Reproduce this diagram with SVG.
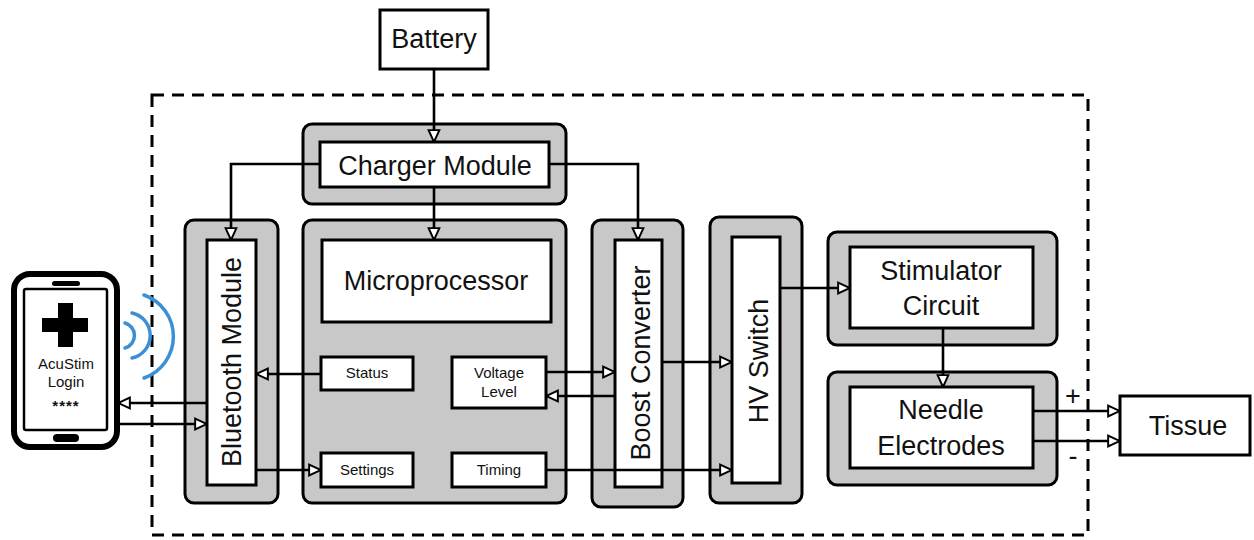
<svg xmlns="http://www.w3.org/2000/svg" width="1254" height="540" viewBox="0 0 1254 540">
<defs>
<marker id="arr" markerUnits="userSpaceOnUse" markerWidth="14" markerHeight="14" viewBox="-1 -1 13 12" refX="11" refY="5" orient="auto">
<path d="M0,0 L11,5 L0,10 Z" fill="#fff" stroke="#000" stroke-width="1.8" stroke-linejoin="miter"/>
</marker>
</defs>
<style>
.outer{fill:#c8c8c8;stroke:#000;stroke-width:3}
.inner{fill:#fff;stroke:#000;stroke-width:3}
.t{font-family:"Liberation Sans",Arial,sans-serif;font-size:27px;fill:#111;text-anchor:middle}
.s{font-family:"Liberation Sans",Arial,sans-serif;font-size:15px;fill:#111;text-anchor:middle}
.ln{fill:none;stroke:#000;stroke-width:2.6}
.wifi{fill:none;stroke:#3a8fd6;stroke-width:3.5;stroke-linecap:round}
</style>
<rect width="1254" height="540" fill="#fff"/>
<rect x="152" y="95" width="936" height="440" fill="none" stroke="#000" stroke-width="3" stroke-dasharray="12 8"/>

<g id="battery"><rect class="inner" x="380" y="10" width="108" height="59"/><text class="t" x="434" y="48">Battery</text></g>
<g id="charger"><rect class="outer" x="303" y="124" width="263" height="80" rx="9"/><rect class="inner" x="320" y="142" width="229" height="45"/><text class="t" x="435" y="175">Charger Module</text></g>
<g id="bluetooth"><rect class="outer" x="185" y="220" width="93" height="283" rx="9"/><rect class="inner" x="207" y="240" width="49" height="245"/><text class="t" transform="translate(241,362) rotate(-90)">Bluetooth Module</text></g>
<g id="microprocessor"><rect class="outer" x="303" y="220" width="263" height="283" rx="9"/><rect class="inner" x="322" y="240" width="229" height="82"/><text class="t" x="436" y="290">Microprocessor</text></g>
<g id="status"><rect class="inner" x="321" y="357" width="92" height="33"/><text class="s" x="367" y="378">Status</text></g>
<g id="voltage"><rect class="inner" x="452" y="357" width="94" height="51"/><text class="s" x="499" y="378">Voltage</text><text class="s" x="499" y="397">Level</text></g>
<g id="settings"><rect class="inner" x="321" y="453" width="92" height="34"/><text class="s" x="367" y="475">Settings</text></g>
<g id="timing"><rect class="inner" x="452" y="453" width="94" height="34"/><text class="s" x="499" y="475">Timing</text></g>
<g id="boost"><rect class="outer" x="592" y="220" width="91" height="287" rx="9"/><rect class="inner" x="615" y="240" width="47" height="247"/><text class="t" transform="translate(650,363) rotate(-90)">Boost Converter</text></g>
<g id="hvswitch"><rect class="outer" x="710" y="217" width="92" height="286" rx="9"/><rect class="inner" x="732" y="237" width="48" height="246"/><text class="t" transform="translate(768,361) rotate(-90)">HV Switch</text></g>
<g id="stimulator"><rect class="outer" x="828" y="232" width="229" height="113" rx="9"/><rect class="inner" x="850" y="247" width="183" height="81"/><text class="t" x="941" y="280">Stimulator</text><text class="t" x="941" y="315">Circuit</text></g>
<g id="needle"><rect class="outer" x="828" y="372" width="229" height="113" rx="9"/><rect class="inner" x="850" y="387" width="183" height="81"/><text class="t" x="941" y="419">Needle</text><text class="t" x="941" y="455">Electrodes</text></g>
<g id="tissue"><rect class="inner" x="1120" y="396" width="130" height="59"/><text class="t" x="1188" y="435">Tissue</text></g>

<g id="phone">
<rect x="14" y="274" width="103" height="173" rx="16" fill="#fff" stroke="#000" stroke-width="6"/>
<rect x="24" y="289" width="83" height="141" rx="2" fill="#fff" stroke="#000" stroke-width="2.5"/>
<rect x="52" y="281" width="28" height="5" rx="2.5" fill="#000"/>
<rect x="53" y="434" width="26" height="8" rx="4" fill="#000"/>
<rect x="58" y="303" width="15" height="44" fill="#000"/>
<rect x="42" y="318" width="46" height="14" fill="#000"/>
<text class="s" x="66" y="369" font-size="14">AcuStim</text>
<text class="s" x="66" y="387" font-size="14">Login</text>
<text class="s" x="66" y="411" font-size="16" font-weight="bold" letter-spacing="1">****</text>
</g>
<g id="wireless">
<path class="wifi" d="M125,323 A13,13 0 0 1 125,348"/>
<path class="wifi" d="M132,313 A23,23 0 0 1 132,358"/>
<path class="wifi" d="M144,295 A44,44 0 0 1 144,378"/>
</g>

<g id="connectors">
<path class="ln" d="M434,69 V142" marker-end="url(#arr)"/>
<path class="ln" d="M320,164 H231 V240" marker-end="url(#arr)"/>
<path class="ln" d="M434,187 V240" marker-end="url(#arr)"/>
<path class="ln" d="M549,164 H638 V240" marker-end="url(#arr)"/>
<path class="ln" d="M321,374 H256" marker-end="url(#arr)"/>
<path class="ln" d="M207,403 H118" marker-end="url(#arr)"/>
<path class="ln" d="M118,424 H207" marker-end="url(#arr)"/>
<path class="ln" d="M256,470 H321" marker-end="url(#arr)"/>
<path class="ln" d="M546,372 H615" marker-end="url(#arr)"/>
<path class="ln" d="M615,396 H546" marker-end="url(#arr)"/>
<path class="ln" d="M546,470 H732" marker-end="url(#arr)"/>
<path class="ln" d="M662,362 H732" marker-end="url(#arr)"/>
<path class="ln" d="M780,288 H850" marker-end="url(#arr)"/>
<path class="ln" d="M943,328 V387" marker-end="url(#arr)"/>
<path class="ln" d="M1033,411 H1120" marker-end="url(#arr)"/>
<path class="ln" d="M1033,441 H1120" marker-end="url(#arr)"/>
<text class="t" x="1073" y="405" font-size="22">+</text>
<text class="t" x="1073" y="465" font-size="22">-</text>
</g>
</svg>
